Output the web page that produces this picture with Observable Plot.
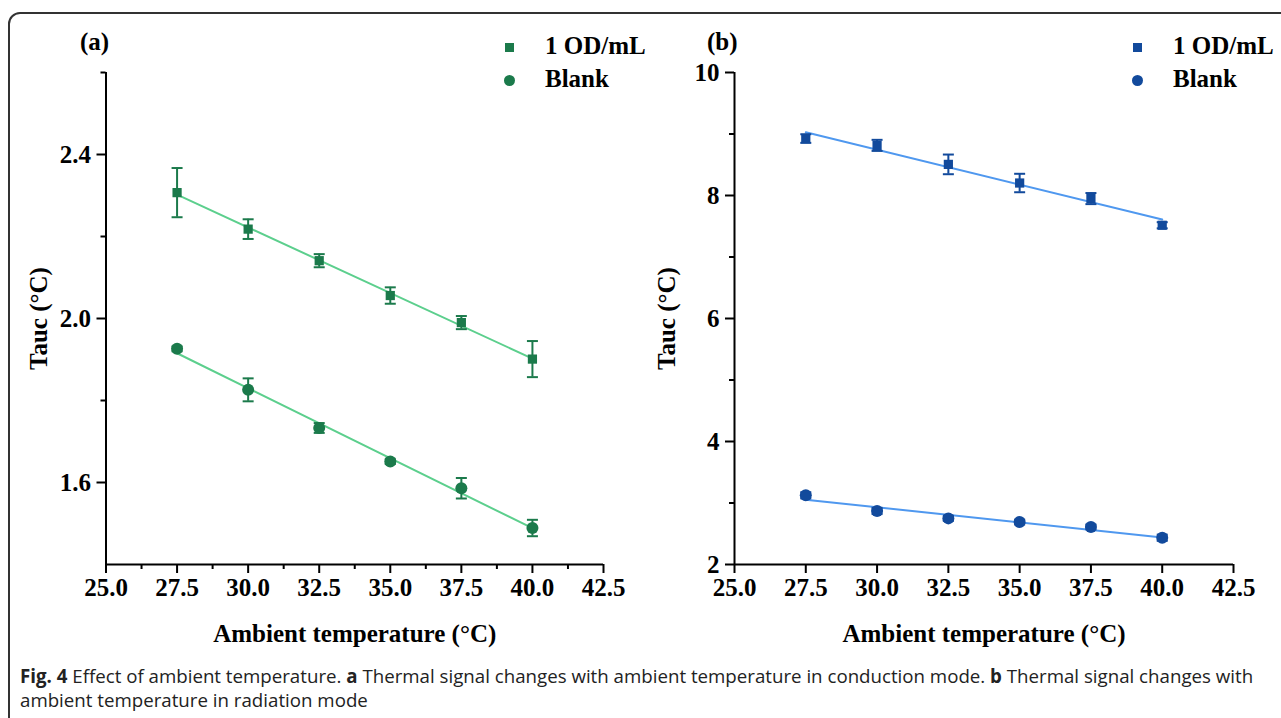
<!DOCTYPE html>
<html>
<head>
<meta charset="utf-8">
<script src="https://cdn.jsdelivr.net/npm/d3@7"></script>
<script src="https://cdn.jsdelivr.net/npm/@observablehq/plot@0.6"></script>
<style>
  html, body { margin: 0; padding: 0; background: #fff; }
  body { width: 1281px; height: 718px; overflow: hidden; position: relative; font-family: "Liberation Serif", serif; }
  #frame { position: absolute; left: 8px; top: 12px; width: 1320px; height: 740px; border: 2px solid #333; border-radius: 12px; box-sizing: border-box; }
  .panel { position: absolute; top: 0; }
  .plabel { position: absolute; font-weight: bold; font-size: 25px; line-height: 24px; color: #000; }
  .legtext { position: absolute; font-weight: bold; font-size: 25px; line-height: 24px; color: #000; white-space: nowrap; }
  .legsym { position: absolute; }
  #caption { position: absolute; left: 20px; top: 664px; font-family: "Open Sans", sans-serif; font-size: 18.7px; line-height: 24px; color: #222; white-space: nowrap; }
</style>
</head>
<body>
<div id="frame"></div>
<div id="pa" class="panel" style="left:0px"></div>
<div id="pb" class="panel" style="left:640px"></div>
<div class="plabel" style="left:80px; top:30px">(a)</div>
<div class="plabel" style="left:707px; top:30px">(b)</div>
<div id="legA"></div>
<div id="legB"></div>
<div id="caption"><b>Fig. 4</b> Effect of ambient temperature. <b>a</b> Thermal signal changes with ambient temperature in conduction mode. <b>b</b> Thermal signal changes with<br>ambient temperature in radiation mode</div>
<script>
// ---- data ----
const temps = [27.5, 30.0, 32.5, 35.0, 37.5, 40.0];
const seriesNames = ["1 OD/mL", "Blank"];

// (a) conduction mode
const aOD      = [2.307, 2.218, 2.141, 2.056, 1.990, 1.901];
const aODErr   = [0.060, 0.024, 0.016, 0.020, 0.016, 0.044];
const aBlank   = [1.926, 1.826, 1.733, 1.651, 1.586, 1.489];
const aBlankErr= [0.006, 0.028, 0.012, 0.006, 0.025, 0.020];

// (b) radiation mode
const bOD      = [8.926, 8.815, 8.506, 8.203, 7.950, 7.516];
const bODErr   = [0.07, 0.09, 0.16, 0.15, 0.09, 0.05];
const bBlank   = [3.125, 2.870, 2.750, 2.690, 2.610, 2.435];
const bBlankErr= [0.05, 0.05, 0.04, 0.04, 0.04, 0.05];

// ticks
const xMajor = [25.0, 27.5, 30.0, 32.5, 35.0, 37.5, 40.0, 42.5];
const xMinorA = [26.25, 28.75, 31.25, 33.75, 36.25, 38.75, 41.25];
const yMajorA = [1.6, 2.0, 2.4];
const yMinorA = [1.8, 2.2, 2.6];
const yMajorB = [2, 4, 6, 8, 10];
const yMinorB = [3, 5, 7, 9];

const xLabel = "Ambient temperature (°C)";
const yLabel = "Tauc (°C)";

const colors = {
  a: {marker: "#1b7a4b", line: "#5ccf8d"},
  b: {marker: "#124a9c", line: "#4f98ef"}
};

const FONT = "Liberation Serif";

const capSymbol = {
  draw(ctx, size) {
    const w = Math.sqrt(size / Math.PI);
    ctx.moveTo(-w, 0);
    ctx.lineTo(w, 0);
  }
};

function rows(ys, errs) {
  return temps.map((t, i) => ({x: t, y: ys[i], lo: ys[i] - errs[i], hi: ys[i] + errs[i]}));
}

function panel({od, odErr, blank, blankErr, col, yDomain, yMajor, yMinor, yFmt, xMinor, width, marginLeft, marginRight}) {
  const s1 = rows(od, odErr), s2 = rows(blank, blankErr);
  const axisFont = {fontFamily: FONT, fontWeight: "bold", fontSize: 25, fill: "#000"};
  const marks = [
    Plot.axisX({ticks: xMajor, tickSize: 9, tickPadding: 5, strokeWidth: 2, tickFormat: d3.format(".1f"),
      label: xLabel, labelAnchor: "center", labelOffset: 77, labelArrow: "none", ...axisFont}),
    Plot.axisY({ticks: yMajor, tickSize: 9, tickPadding: 6, strokeWidth: 2, tickFormat: yFmt,
      label: yLabel, labelAnchor: "center", labelOffset: 77, labelArrow: "none", ...axisFont}),
    Plot.axisY({ticks: yMinor, tickSize: 5, strokeWidth: 2, tickFormat: null, label: null, text: null}),
  ];
  if (xMinor) marks.push(Plot.axisX({ticks: xMinor, tickSize: 5, strokeWidth: 2, label: null, text: null}));
  marks.push(
    Plot.ruleY([yDomain[0]], {stroke: "#000", strokeWidth: 2}),
    Plot.ruleX([25], {stroke: "#000", strokeWidth: 2}),
  );
  for (const [s, sym, r] of [[s1, "square", 5.2], [s2, "circle", 6]]) {
    marks.push(
      Plot.linearRegressionY(s, {x: "x", y: "y", stroke: col.line, strokeWidth: 2, ci: 0}),
      Plot.ruleX(s, {x: "x", y1: "lo", y2: "hi", stroke: col.marker, strokeWidth: 2}),
      Plot.dot(s, {x: "x", y: "lo", symbol: capSymbol, r: 5.5, stroke: col.marker, fill: "none", strokeWidth: 2}),
      Plot.dot(s, {x: "x", y: "hi", symbol: capSymbol, r: 5.5, stroke: col.marker, fill: "none", strokeWidth: 2}),
      Plot.dot(s, {x: "x", y: "y", symbol: sym, r, fill: col.marker, stroke: "none"})
    );
  }
  return Plot.plot({
    width, height: 660,
    marginLeft, marginRight, marginTop: 72, marginBottom: 96,
    x: {domain: [25, 42.5]},
    y: {domain: yDomain},
    style: {background: "transparent", overflow: "visible"},
    marks
  });
}

document.getElementById("pa").append(panel({
  od: aOD, odErr: aODErr, blank: aBlank, blankErr: aBlankErr, col: colors.a,
  yDomain: [1.4, 2.6], yMajor: yMajorA, yMinor: yMinorA, yFmt: d3.format(".1f"), xMinor: xMinorA,
  width: 640, marginLeft: 105.5, marginRight: 37
}));
document.getElementById("pb").append(panel({
  od: bOD, odErr: bODErr, blank: bBlank, blankErr: bBlankErr, col: colors.b,
  yDomain: [2, 10], yMajor: yMajorB, yMinor: yMinorB, yFmt: d3.format("d"), xMinor: null,
  width: 641, marginLeft: 94, marginRight: 48
}));

// legends
function legend(el, x, col) {
  const items = [
    {name: seriesNames[0], cy: 47, shape: "square"},
    {name: seriesNames[1], cy: 80, shape: "circle"}
  ];
  for (const it of items) {
    const s = document.createElement("div");
    s.className = "legsym";
    const sz = it.shape === "square" ? 9 : 11;
    s.style.left = (x - sz / 2) + "px";
    s.style.top = (it.cy - sz / 2) + "px";
    s.style.width = sz + "px";
    s.style.height = sz + "px";
    s.style.background = col.marker;
    if (it.shape === "circle") s.style.borderRadius = "50%";
    el.append(s);
    const t = document.createElement("div");
    t.className = "legtext";
    t.style.left = (x + 36) + "px";
    t.style.top = (it.cy - 13) + "px";
    t.textContent = it.name;
    el.append(t);
  }
}
legend(document.getElementById("legA"), 509, colors.a);
legend(document.getElementById("legB"), 1137, colors.b);
</script>
</body>
</html>
